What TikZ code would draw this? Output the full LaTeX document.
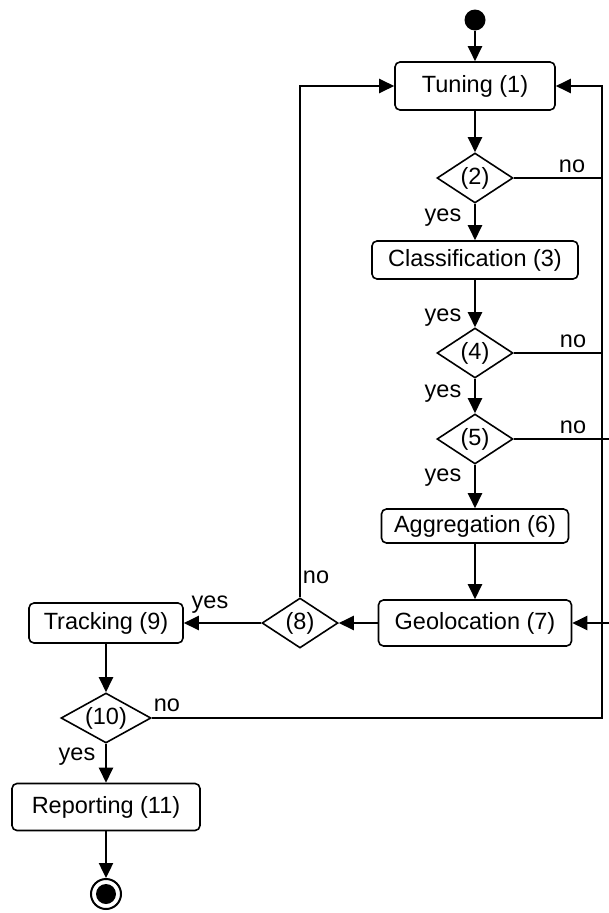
\documentclass[tikz,border=0pt]{standalone}
\usepackage{fontspec}
\setmainfont{Liberation Sans}
\usetikzlibrary{arrows.meta, shapes.geometric}

\begin{document}
\begin{tikzpicture}[
  x=1pt, y=-1pt,
  font=\fontsize{23.5}{28}\selectfont,
  act/.style={draw, line width=1.6pt, rounded corners=5pt, inner sep=2pt},
  dec/.style={draw, diamond, line width=1.6pt, inner sep=0pt, shape aspect=1.5,
    minimum width=76pt, minimum height=50pt},
  lbl/.style={inner sep=0pt},
  wire/.style={line width=2.4pt},
  flow/.style={wire, -{Triangle[length=15pt, width=14pt]}},
]
  \clip (0,0) rectangle (609,913);

  % Initial and final states
  \node[circle, fill, minimum size=21pt, inner sep=0pt] (start) at (475,20) {};
  \node[circle, draw, line width=2pt, minimum size=30pt, inner sep=0pt] (stop) at (106,894) {};
  \fill (stop.center) circle (10);

  % Activities
  \node[act, minimum width=160pt, minimum height=48pt] (tun) at (475,86) {Tuning (1)};
  \node[act, minimum width=206pt, minimum height=38pt] (cls) at (475,260) {Classification (3)};
  \node[act, minimum width=187pt, minimum height=34pt] (agg) at (475,526) {Aggregation (6)};
  \node[act, minimum width=193pt, minimum height=46pt] (geo) at (475,623) {Geolocation (7)};
  \node[act, minimum width=154pt, minimum height=40pt] (trk) at (106,623) {Tracking (9)};
  \node[act, minimum width=188pt, minimum height=47pt] (rep) at (106,807) {Reporting (11)};

  % Decisions
  \node[dec] (d2) at (475,178) {(2)};
  \node[dec] (d4) at (475,353) {(4)};
  \node[dec] (d5) at (475,439) {(5)};
  \node[dec] (d8) at (300,623) {(8)};
  \node[dec, minimum width=90pt, shape aspect=1.8] (d10) at (106,718) {(10)};

  % Return lines on the right
  \coordinate (rtop) at (602,86);
  \coordinate (rbot) at (602,718);
  \coordinate (r5a) at (613,439);
  \coordinate (r5b) at (613,623);

  % Main flow
  \draw[flow] (start) -- (tun);
  \draw[flow] (tun) -- (d2);
  \draw[flow] (d2) -- (cls);
  \draw[flow] (cls) -- (d4);
  \draw[flow] (d4) -- (d5);
  \draw[flow] (d5) -- (agg);
  \draw[flow] (agg) -- (geo);
  \draw[flow] (geo) -- (d8);
  \draw[flow] (d8) -- (trk);
  \draw[flow] (trk) -- (d10);
  \draw[flow] (d10) -- (rep);
  \draw[flow] (rep) -- (stop);

  % Loops back
  \draw[flow] (d8.north) |- (tun.west);
  \draw[flow] (d10.east) -- (rbot) -- (rtop) -- (tun.east);
  \draw[wire] (d2.east) -- (d2.east -| rtop);
  \draw[wire] (d4.east) -- (d4.east -| rtop);
  \draw[flow] (d5.east) -- (r5a) -- (r5b) -- (geo.east);

  % Guards
  \node[lbl] (y2) at (443,218) {yes};
  \node[lbl] (n2) at (572,166) {no};
  \node[lbl] (y3) at (443,318) {yes};
  \node[lbl] (n4) at (573,341) {no};
  \node[lbl] (y4) at (443,394) {yes};
  \node[lbl] (n5) at (573,427) {no};
  \node[lbl] (y5) at (443,478) {yes};
  \node[lbl] (n8) at (316,577) {no};
  \node[lbl] (y8) at (210,605) {yes};
  \node[lbl] (n10) at (167,705) {no};
  \node[lbl] (y10) at (77,757) {yes};
\end{tikzpicture}
\end{document}
